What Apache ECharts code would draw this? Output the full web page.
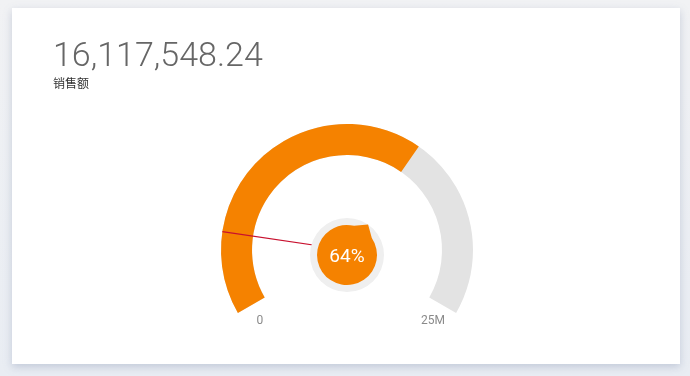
<!DOCTYPE html>
<html>
<head>
<meta charset="utf-8">
<script src="https://cdn.jsdelivr.net/npm/echarts@6/dist/echarts.min.js"></script>
<style>
    html, body { margin: 0; padding: 0; width: 690px; height: 376px; overflow: hidden; }
    body { background: linear-gradient(#f1f2f4, #e9edf3); position: relative; }
    #card {
        position: absolute; left: 12px; top: 8px; width: 668px; height: 356px;
        background: #fff; box-shadow: 0 3px 8px rgba(120, 135, 170, 0.35);
    }
    #chart { position: absolute; left: 0; top: 0; width: 690px; height: 376px; }
</style>
</head>
<body>
<div id="card"></div>
<div id="chart"></div>
<script>
// 数据
const titleName = '销售额'
const salesValue = 16117548.24
const targetValue = 4000000
const gaugeMin = 0
const gaugeMax = 25000000
const tickValues = [0, 25000000]

const orange = '#f58200'
const font = 'Roboto, "Noto Sans CJK SC", sans-serif'

// 格式化
function formatMoney(v) {
    return v.toLocaleString('en-US', { minimumFractionDigits: 2, maximumFractionDigits: 2 })
}
function formatTick(v) {
    return v === 0 ? '0' : (v / 1000000) + 'M'
}

// 公共设置: 隐藏的部件
const hidden = {
    axisLine: { show: false },
    splitLine: { show: false },
    axisTick: { show: false },
    axisLabel: { show: false },
    pointer: { show: false },
    anchor: { show: false },
    title: { show: false },
    detail: { show: false }
}

// 初始化图表
const chart = echarts.init(document.getElementById('chart'))

const option = {
    backgroundColor: 'transparent',
    title: {
        text: formatMoney(salesValue),
        subtext: titleName,
        left: 48,
        top: 36,
        itemGap: 4,
        textStyle: { color: '#666', fontSize: 34, fontWeight: 300, fontFamily: font },
        subtextStyle: { color: '#333', fontSize: 12, fontFamily: font }
    },
    series: [
        // 主环
        Object.assign({}, hidden, {
            type: 'gauge',
            z: 2,
            center: [347, 250],
            radius: 126,
            startAngle: 210,
            endAngle: -30,
            min: gaugeMin,
            max: gaugeMax,
            axisLine: { lineStyle: { width: 31, color: [[1, '#e3e3e3']] } },
            progress: { show: true, width: 31, itemStyle: { color: orange } },
            data: [{ value: salesValue }]
        }),
        // 刻度文字
        Object.assign({}, hidden, {
            type: 'gauge',
            center: [350.75, 250],
            radius: 118,
            startAngle: 217,
            endAngle: -37,
            min: gaugeMin,
            max: gaugeMax,
            splitNumber: tickValues.length - 1,
            splitLine: { show: false, length: 0, distance: 0 },
            axisLabel: {
                distance: 0,
                color: '#8a8a8a',
                fontSize: 12,
                fontFamily: font,
                formatter: formatTick
            },
            data: []
        }),
        // 目标线
        Object.assign({}, hidden, {
            type: 'gauge',
            z: 4,
            center: [347, 250],
            radius: 126,
            startAngle: 210,
            endAngle: -30,
            min: gaugeMin,
            max: gaugeMax,
            pointer: { show: true, icon: 'rect', width: 1.2, length: 126, itemStyle: { color: '#c8102e' } },
            data: [{ value: targetValue }]
        }),
        // 中心圆
        Object.assign({}, hidden, {
            type: 'gauge',
            z: 5,
            center: [347, 255],
            radius: 37,
            startAngle: 210,
            endAngle: -30,
            min: gaugeMin,
            max: gaugeMax,
            anchor: { show: true, showAbove: false, size: 74, itemStyle: { color: '#efefef' } },
            pointer: {
                show: true,
                icon: 'path://M0 -37 L10.77 -28 A30 30 0 1 1 -10.77 -28 Z',
                width: 60,
                length: 67,
                offsetCenter: [0, 30],
                itemStyle: { color: orange }
            },
            data: [{ value: salesValue }]
        }),
        // 百分比文字
        Object.assign({}, hidden, {
            type: 'gauge',
            z: 6,
            center: [347, 255],
            radius: 37,
            min: gaugeMin,
            max: gaugeMax,
            detail: {
                show: true,
                offsetCenter: [0, 2],
                color: '#fff',
                fontSize: 19,
                fontWeight: 400,
                fontFamily: font,
                formatter: function (v) {
                    return Math.round(v / gaugeMax * 100) + '%'
                }
            },
            data: [{ value: salesValue }]
        })
    ]
}

chart.setOption(option)
</script>
</body>
</html>
